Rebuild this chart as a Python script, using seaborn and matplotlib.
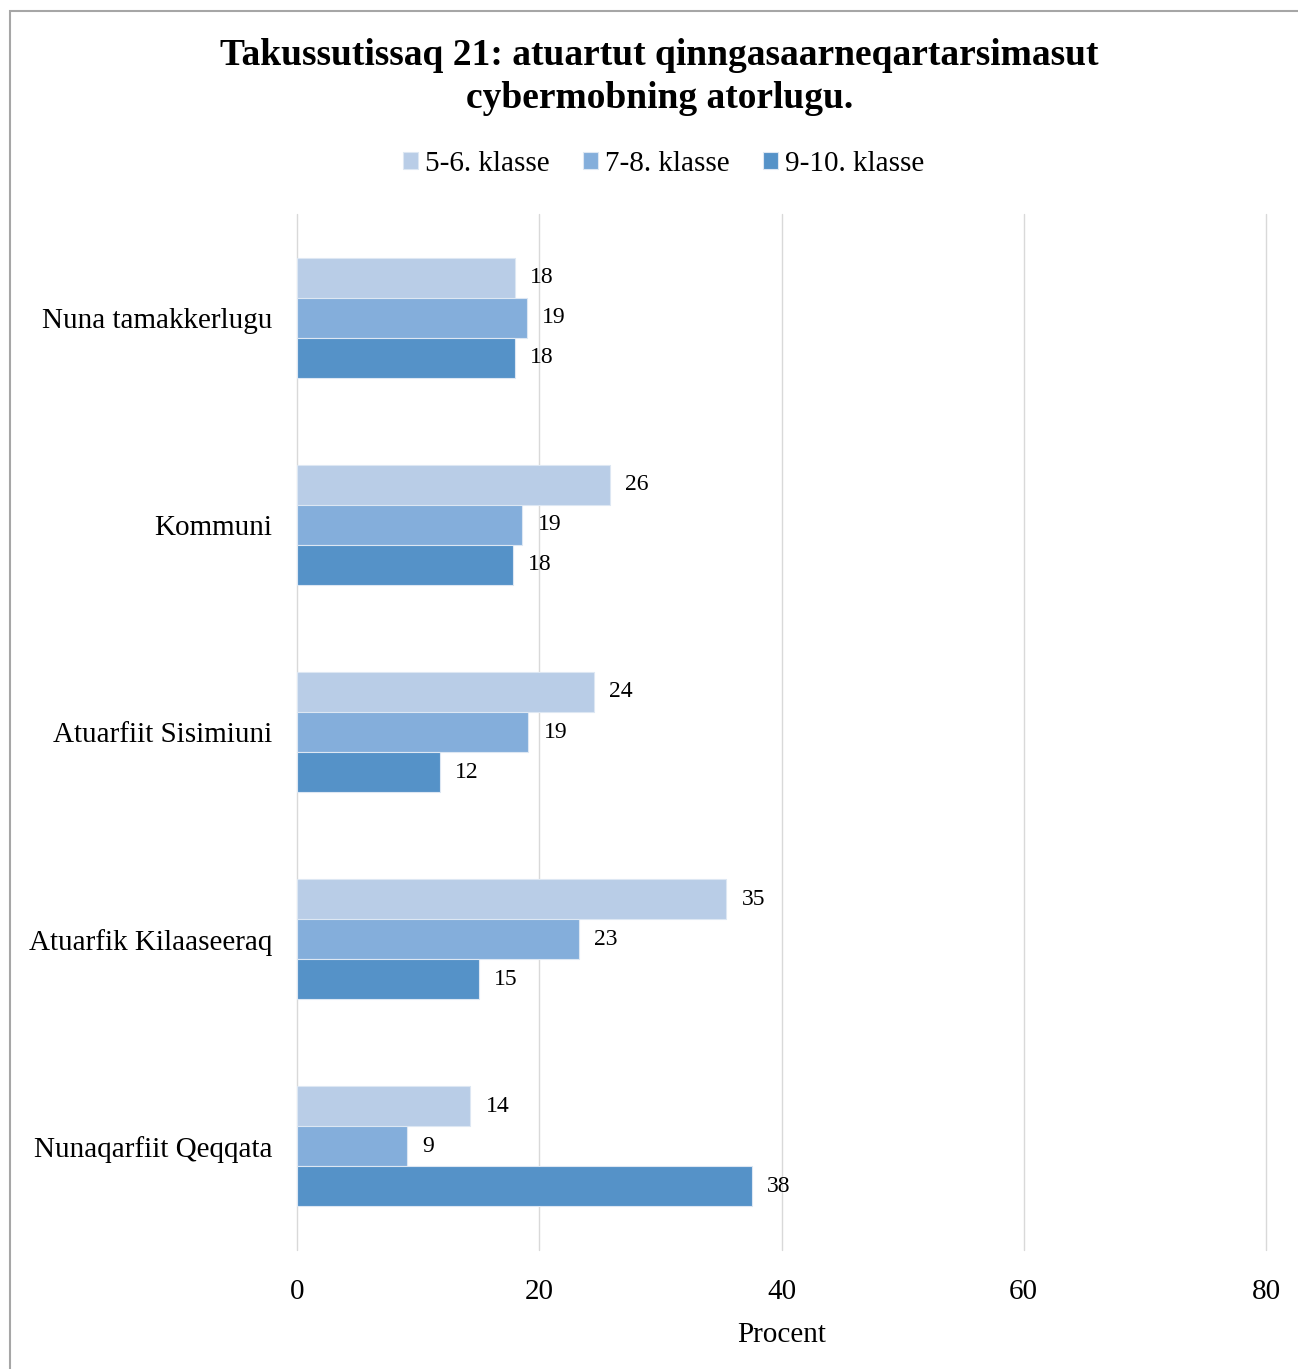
import numpy as np
import pandas as pd
import matplotlib
matplotlib.use('Agg')
import matplotlib.pyplot as plt
from matplotlib.patches import Rectangle
import seaborn as sns

# data (bar lengths in percent)
categories = ['Nuna tamakkerlugu', 'Kommuni', 'Atuarfiit Sisimiuni',
              'Atuarfik Kilaaseeraq', 'Nunaqarfiit Qeqqata']
groups = ['5-6. klasse', '7-8. klasse', '9-10. klasse']
vals_56 = [18.0, 25.8, 24.5, 35.45, 14.3]
vals_78 = [19.0, 18.6, 19.1, 23.3, 9.1]
vals_910 = [18.0, 17.8, 11.8, 15.0, 37.55]
colors = ['#B9CDE7', '#84AEDB', '#5592C8']
xticks = [0, 20, 40, 60, 80]

title = 'Takussutissaq 21: atuartut qinngasaarneqartarsimasut\ncybermobning atorlugu.'
xlabel = 'Procent'

sns.set_style('white')
plt.rcParams['font.family'] = ['Liberation Serif', 'DejaVu Serif']
plt.rcParams['text.color'] = 'black'
plt.rcParams['axes.labelcolor'] = 'black'
plt.rcParams['xtick.color'] = 'black'
plt.rcParams['ytick.color'] = 'black'

df = pd.DataFrame({
    'Kategori': categories * 3,
    'Gruppe': np.repeat(groups, len(categories)),
    'Procent': vals_56 + vals_78 + vals_910,
})

W, H = 1298, 1369
fig = plt.figure(figsize=(W / 100, H / 100), dpi=100)
ax = fig.add_axes([297 / W, 1 - 1250 / H, (1266 - 297) / W, (1250 - 214) / H])

sns.barplot(data=df, y='Kategori', x='Procent', hue='Gruppe', hue_order=groups,
            order=categories, palette=colors, saturation=1, orient='h', width=0.58,
            edgecolor='#DDE7F3', linewidth=0.8, ax=ax, legend=True)

for cont in ax.containers:
    ax.bar_label(cont, fmt='%.0f', padding=11, fontsize=17, color='black')

ax.set_xlim(0, 80)
ax.set_ylim(len(categories) - 0.5, -0.5)
ax.set_xticks(xticks)
ax.xaxis.grid(True, color='#D9D9D9', linewidth=1)
ax.yaxis.grid(False)
ax.set_axisbelow(True)
for gl in ax.get_xgridlines():
    gl.set_clip_on(False)
for s in ax.spines.values():
    s.set_visible(False)
ax.tick_params(axis='x', length=0, pad=21, labelsize=21)
ax.tick_params(axis='y', length=0, pad=18, labelsize=21)
ax.set_ylabel('')
ax.set_xlabel(xlabel, fontsize=21, labelpad=12)

handles, labels = ax.get_legend_handles_labels()
ax.get_legend().remove()
fig.legend(handles, labels, loc='center', ncol=3, frameon=False,
           bbox_to_anchor=(664 / W, 1 - 164 / H), fontsize=21,
           handlelength=0.5, handleheight=0.5, handletextpad=0.25,
           columnspacing=1.15)

fig.text(659.5 / W, 1 - 77 / H, title, ha='center', va='center',
         fontsize=27, fontweight='bold', linespacing=1.28)

# chart frame (cut off at right and bottom like the reference)
fig.add_artist(Rectangle((10 / W, -0.1), 1.2, 1.1 - 11 / H,
                         transform=fig.transFigure, fill=False,
                         edgecolor='#A6A6A6', linewidth=1.5))

fig.savefig('out.png', dpi=100)
plt.close()
